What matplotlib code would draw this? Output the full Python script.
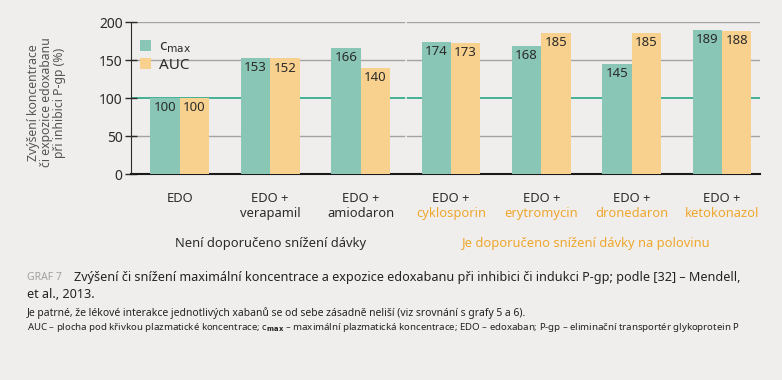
import numpy as np
import matplotlib.pyplot as plt
import matplotlib.transforms as mtransforms

plt.rcParams['font.family'] = ['Noto Sans', 'DejaVu Sans']

groups = ['EDO', 'verapamil', 'amiodaron', 'cyklosporin', 'erytromycin',
          'dronedaron', 'ketokonazol']
cmax = np.array([100, 153, 166, 174, 168, 145, 189])
auc = np.array([100, 152, 140, 173, 185, 185, 188])
halve = [False, False, False, True, True, True, True]

bg = '#efeeec'
green = '#8ac6b5'
orange = '#f9d18e'
orange_txt = '#f0a72e'
dark = '#2b2b2b'

fig = plt.figure(figsize=(7.82, 3.80), dpi=100, facecolor=bg)
ax = fig.add_axes([131/782, 1 - 174/380, (760 - 131)/782, 152/380])
ax.set_facecolor(bg)

x = np.arange(len(groups))
w = 0.325
ax.bar(x - w/2, cmax, w, color=green, zorder=3, label=r'c$_{\mathrm{max}}$')
ax.bar(x + w/2, auc, w, color=orange, zorder=3, label='AUC')

for i in range(len(x)):
    ax.text(x[i] - w/2, cmax[i] - 4, str(cmax[i]), ha='center', va='top',
            fontsize=9.5, color=dark, zorder=4)
    ax.text(x[i] + w/2, auc[i] - 4, str(auc[i]), ha='center', va='top',
            fontsize=9.5, color=dark, zorder=4)

for yv in [50, 150, 200]:
    ax.axhline(yv, color='#a3a3a3', lw=1.0, zorder=1)
ax.axhline(100, color='#13a07f', lw=1.1, zorder=1)
ax.axvline(2.5, color=bg, lw=1.2, zorder=2)

ax.set_xlim(-0.54, 6.42)
ax.set_ylim(0, 200)
ax.set_yticks([0, 50, 100, 150, 200])
ax.tick_params(axis='y', direction='inout', length=8, width=1, labelsize=10,
               colors=dark, pad=2)
ax.set_xticks([])
for s in ['top', 'right']:
    ax.spines[s].set_visible(False)
ax.spines['left'].set_color(dark)
ax.spines['bottom'].set_color('#1a1a1a')
ax.spines['bottom'].set_linewidth(1.5)

ax.set_ylabel('Zvýšení koncentrace\nči expozice edoxabanu\npři inhibici P-gp (%)',
              fontsize=8.8, color='#555555', linespacing=1.0)
ax.yaxis.set_label_coords(-0.104, 0.47)

trans = mtransforms.blended_transform_factory(ax.transData, ax.transAxes)
for i, g in enumerate(groups):
    if i == 0:
        ax.text(x[i], -0.164, 'EDO', transform=trans, ha='center', va='center',
                fontsize=9.3, color=dark)
    else:
        ax.text(x[i], -0.164, 'EDO +', transform=trans, ha='center',
                va='center', fontsize=9.3, color=dark)
        ax.text(x[i], -0.257, g, transform=trans, ha='center', va='center',
                fontsize=9.3, color=orange_txt if halve[i] else dark)

ax.text(1, -0.454, 'Není doporučeno snížení dávky', transform=trans,
        ha='center', va='center', fontsize=9.3, color=dark)
ax.text(4.5, -0.454, 'Je doporučeno snížení dávky na polovinu', transform=trans,
        ha='center', va='center', fontsize=9.3, color=orange_txt)

leg = ax.legend(loc='upper left', bbox_to_anchor=(-0.008, 0.975), frameon=False,
                fontsize=11, handlelength=0.75, handleheight=0.75,
                handletextpad=0.5, labelspacing=0.15, borderaxespad=0.5)
for t in leg.get_texts():
    t.set_color(dark)

fig.text(27/782, 1 - 278/380, 'GRAF 7', fontsize=7.5, color='#a0a0a0',
         va='center', ha='left')
title = fig.text(74/782, 1 - 278/380,
                 'Zvýšení či snížení maximální koncentrace a expozice edoxabanu '
                 'při inhibici či indukci P-gp; podle [32] – Mendell,',
                 fontsize=11, color='#222222', va='center', ha='left')
title2 = fig.text(27/782, 1 - 295/380, 'et al., 2013.', fontsize=11,
                  color='#222222', va='center', ha='left')
note1 = fig.text(27/782, 1 - 313/380,
                 'Je patrné, že lékové interakce jednotlivých xabanů se od sebe '
                 'zásadně neliší (viz srovnání s grafy 5 a 6).',
                 fontsize=8, color='#222222', va='center', ha='left')
note2 = fig.text(27/782, 1 - 328/380,
                 r'AUC – plocha pod křivkou plazmatické koncentrace; '
                 r'c$_{\mathbf{max}}$ – maximální plazmatická koncentrace; '
                 'EDO – edoxaban; P-gp – eliminační transportér glykoprotein P',
                 fontsize=8, color='#222222', va='center', ha='left')

# shrink caption lines so they span the same width as in the printed figure
fig.canvas.draw()
r = fig.canvas.get_renderer()
for t, target in [(title, 665), (note1, 498), (note2, 713)]:
    wpx = t.get_window_extent(r).width
    t.set_fontsize(t.get_fontsize() * target / wpx)
title2.set_fontsize(title.get_fontsize())

fig.savefig('out.png', dpi=100, facecolor=bg)
